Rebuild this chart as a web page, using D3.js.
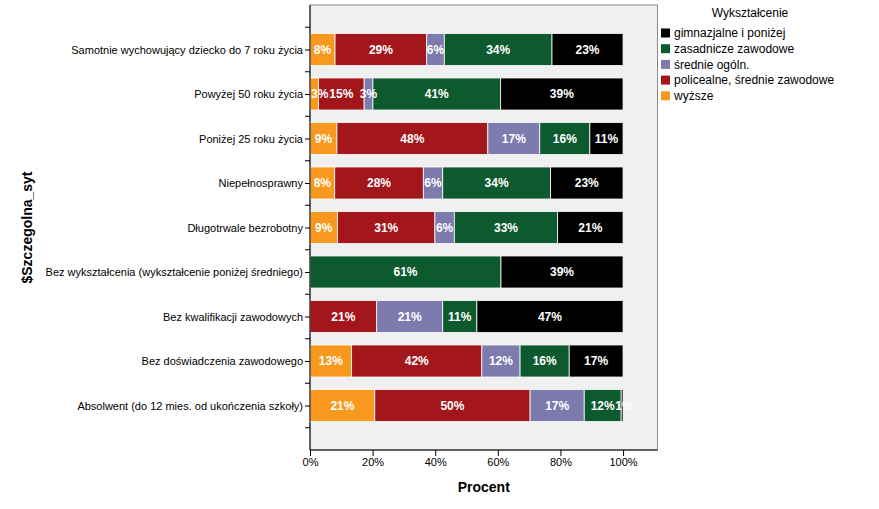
<!DOCTYPE html>
<html><head><meta charset="utf-8">
<script src="https://cdn.jsdelivr.net/npm/d3@7"></script>
<style>
body{margin:0;background:#fff;}
svg{display:block;font-family:"Liberation Sans",Arial,sans-serif;}
</style></head>
<body><svg id="c" width="879" height="509"></svg>
<script>
const categories = [
  "Samotnie wychowujący dziecko do 7 roku życia",
  "Powyżej 50 roku życia",
  "Poniżej 25 roku życia",
  "Niepełnosprawny",
  "Długotrwale bezrobotny",
  "Bez wykształcenia (wykształcenie poniżej średniego)",
  "Bez kwalifikacji zawodowych",
  "Bez doświadczenia zawodowego",
  "Absolwent (do 12 mies. od ukończenia szkoły)"
];
// series in stacking order (left to right)
const seriesNames = ["wyższe","policealne, średnie zawodowe","średnie ogóln.","zasadnicze zawodowe","gimnazjalne i poniżej"];
const wyzsze      = [8.0, 2.7, 8.6, 7.9, 8.8, 0, 0, 13.3, 20.7];
const policealne  = [29.3,14.6,48.2,28.3,31.1, 0, 21.3,41.6,49.6];
const srednieOg   = [5.6, 2.8, 16.6, 6.2, 6.2, 0, 21.1,12.2,17.3];
const zasadnicze  = [34.4,40.8,16.0,34.4,33.0,61.0,10.9,15.7,11.8];
const gimnazjalne = [22.7,39.1,10.6,23.2,20.9,39.0,46.7,17.2,0.6];
const xTicks = [0,20,40,60,80,100];
const legendOrder = ["gimnazjalne i poniżej","zasadnicze zawodowe","średnie ogóln.","policealne, średnie zawodowe","wyższe"];
const colors = {
  "wyższe":"#f7991e",
  "policealne, średnie zawodowe":"#a3161b",
  "średnie ogóln.":"#7d7bad",
  "zasadnicze zawodowe":"#0d5a2e",
  "gimnazjalne i poniżej":"#000000"
};
const seriesValues = [wyzsze, policealne, srednieOg, zasadnicze, gimnazjalne];

const svg = d3.select("#c");
const L=310, R=657.5, T=5, B=450;

const x = d3.scaleLinear().domain([0,111]).range([L,R]);
const y = d3.scaleLinear().domain([0,categories.length+1]).range([T,B]);
const slot = y(1)-y(0);
const barH = slot*0.72;

// plot background
svg.append("rect").attr("x",L).attr("y",T).attr("width",R-L).attr("height",B-T)
  .attr("fill","#f0f0f0").attr("stroke","#8a8a8a").attr("stroke-width",1);

// stacked data
const rows = categories.map((c,i)=>{
  let acc=0;
  return seriesNames.map((s,k)=>{
    const v = seriesValues[k][i];
    const seg = {cat:i, name:s, v, x0:acc, x1:acc+v};
    acc+=v; return seg;
  });
});
const segs = rows.flat().filter(d=>d.v>0);

const g = svg.append("g");
g.selectAll("rect.seg").data(segs).enter().append("rect")
  .attr("class","seg")
  .attr("x",d=>x(d.x0)).attr("width",d=>x(d.x1)-x(d.x0))
  .attr("y",d=>y(d.cat+1)-barH/2).attr("height",barH)
  .attr("fill",d=>colors[d.name]).attr("stroke","#ffffff").attr("stroke-width",0.8);

const fmt = d3.format(".0f");
const labs = g.selectAll("text.lab").data(segs).enter().append("text")
  .attr("class","lab")
  .attr("y",d=>y(d.cat+1))
  .attr("dy","0.36em").attr("text-anchor","start")
  .attr("fill","#fff").attr("font-weight","bold")
  .attr("font-size",12)
  .text(d=>fmt(d.v)+"%");
// position labels: centred on segment, kept inside plot and not overlapping the previous label
const prevRight = {};
labs.each(function(d){
  const w = this.getComputedTextLength();
  let left = x((d.x0+d.x1)/2) - w/2;
  left = Math.max(left, L+1);
  if (prevRight[d.cat]!==undefined) left = Math.max(left, prevRight[d.cat]+0.5);
  prevRight[d.cat] = left + w;
  d3.select(this).attr("x", left);
});

// y axis
const yAxis = d3.axisLeft(y)
  .tickValues(d3.range(1,categories.length+1))
  .tickSize(5).tickPadding(2)
  .tickFormat(d=>categories[d-1]);
const ya = svg.append("g").attr("transform",`translate(${L},0)`).call(yAxis);
ya.select(".domain").remove();
ya.selectAll("text").attr("font-size",11).attr("fill","#000");
ya.selectAll("line").attr("stroke","#000");
// minor ticks
svg.append("g").selectAll("line").data(d3.range(0.5,categories.length+1,1)).enter()
  .append("line").attr("x1",L-5).attr("x2",L).attr("y1",d=>y(d)).attr("y2",d=>y(d)).attr("stroke","#000");
svg.append("line").attr("x1",L).attr("x2",L).attr("y1",T).attr("y2",B).attr("stroke","#000");

// x axis
const xAxis = d3.axisBottom(x).tickValues(xTicks).tickSize(6).tickPadding(2).tickFormat(d=>d+"%");
const xa = svg.append("g").attr("transform",`translate(0,${B})`).call(xAxis);
xa.select(".domain").remove();
xa.selectAll("text").attr("font-size",11).attr("fill","#000");
xa.selectAll("line").attr("stroke","#000");
svg.append("line").attr("x1",L).attr("x2",R).attr("y1",B).attr("y2",B).attr("stroke","#000");

// axis titles
svg.append("text").attr("x",(L+R)/2).attr("y",492).attr("text-anchor","middle")
  .attr("font-weight","bold").attr("font-size",14).text("Procent");
svg.append("text").attr("transform",`translate(32,${(T+B)/2}) rotate(-90)`).attr("text-anchor","middle")
  .attr("font-weight","bold").attr("font-size",14).text("$Szczegolna_syt");

// legend
const lg = svg.append("g");
lg.append("text").attr("x",750).attr("y",17).attr("text-anchor","middle").attr("font-size",12).text("Wykształcenie");
const li = lg.selectAll("g.it").data(legendOrder).enter().append("g")
  .attr("transform",(d,i)=>`translate(661,${33+i*15.7})`);
li.append("rect").attr("x",0).attr("y",-4.5).attr("width",9).attr("height",9).attr("fill",d=>colors[d]);
li.append("text").attr("x",13).attr("y",0).attr("dy","0.36em").attr("font-size",12).text(d=>d);
</script></body></html>
